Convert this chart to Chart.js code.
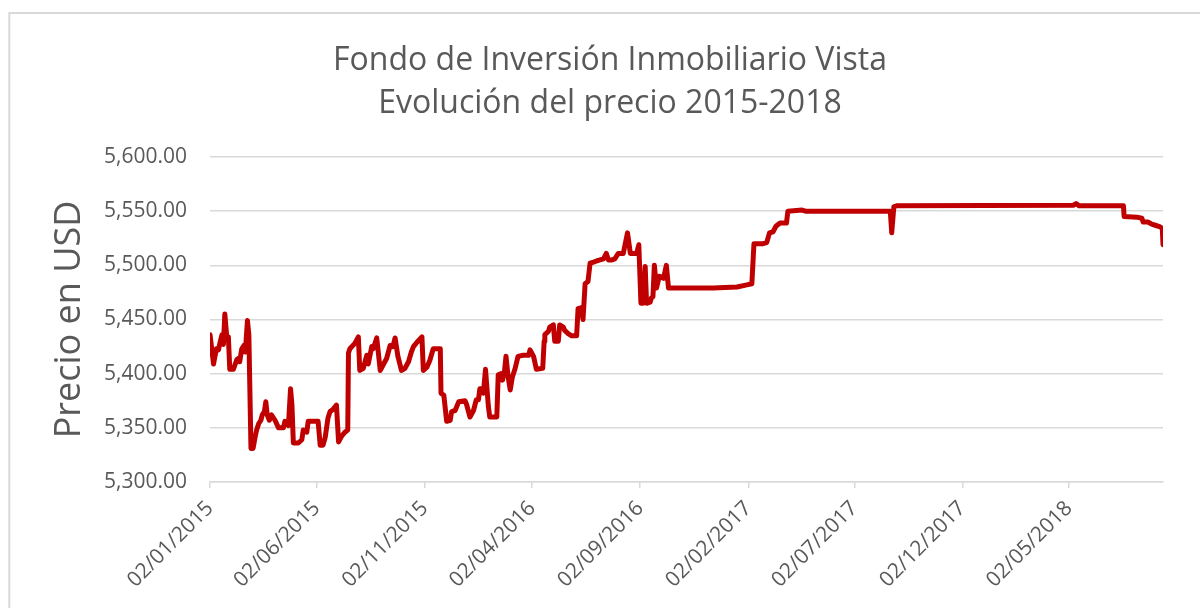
<!DOCTYPE html>
<html>
<head>
<meta charset="utf-8">
<script src="https://cdn.jsdelivr.net/npm/chart.js@4.4.1/dist/chart.umd.min.js"></script>
<style>
  html, body { margin: 0; padding: 0; background: #ffffff; }
  #wrap { position: relative; width: 1200px; height: 608px; }
</style>
</head>
<body>
<div id="wrap"><canvas id="c"></canvas></div>
<script>
const titleLines = ['Fondo de Inversión Inmobiliario Vista', 'Evolución del precio 2015-2018'];
const yAxisTitle = 'Precio en USD';

const tickDates = ['2015-01-02','2015-06-02','2015-11-02','2016-04-02','2016-09-02','2017-02-02','2017-07-02','2017-12-02','2018-05-02'];
const tickLabels = ['02/01/2015','02/06/2015','02/11/2015','02/04/2016','02/09/2016','02/02/2017','02/07/2017','02/12/2017','02/05/2018'];

const yMin = 5300, yMax = 5600, yStep = 50;

const dates = [
 '2015-01-02','2015-01-07','2015-01-11','2015-01-14','2015-01-16','2015-01-19','2015-01-21','2015-01-23','2015-01-26','2015-01-28',
 '2015-01-30','2015-02-04','2015-02-09','2015-02-11','2015-02-13','2015-02-16','2015-02-19','2015-02-21','2015-02-24','2015-02-26',
 '2015-03-01','2015-03-04','2015-03-07','2015-03-09','2015-03-12','2015-03-15','2015-03-17','2015-03-20','2015-03-22','2015-03-24',
 '2015-03-27','2015-03-30','2015-04-04','2015-04-09','2015-04-16','2015-04-18','2015-04-23','2015-04-26','2015-04-28','2015-04-30',
 '2015-05-07','2015-05-12','2015-05-14','2015-05-19','2015-05-21','2015-06-04','2015-06-07','2015-06-11','2015-06-14','2015-06-18',
 '2015-06-21','2015-06-25','2015-06-30','2015-07-03','2015-07-07','2015-07-12','2015-07-16','2015-07-17','2015-07-19','2015-07-26',
 '2015-07-31','2015-08-02','2015-08-07','2015-08-12','2015-08-14','2015-08-19','2015-08-21','2015-08-26','2015-08-31','2015-09-04',
 '2015-09-09','2015-09-14','2015-09-18','2015-09-21','2015-09-25','2015-09-30','2015-10-05','2015-10-10','2015-10-14','2015-10-17',
 '2015-10-22','2015-10-29','2015-10-31','2015-11-05','2015-11-09','2015-11-14','2015-11-24','2015-11-25','2015-11-29','2015-12-03',
 '2015-12-08','2015-12-10','2015-12-15','2015-12-20','2015-12-29','2015-12-31','2016-01-05','2016-01-10','2016-01-14','2016-01-17',
 '2016-01-19','2016-01-22','2016-01-24','2016-01-27','2016-01-31','2016-02-02','2016-02-12','2016-02-14','2016-02-18','2016-02-20',
 '2016-02-23','2016-02-25','2016-02-28','2016-03-02','2016-03-05','2016-03-09','2016-03-13','2016-03-20','2016-03-28','2016-03-30',
 '2016-04-04','2016-04-08','2016-04-17','2016-04-19','2016-04-20','2016-04-25','2016-04-27','2016-05-02','2016-05-04','2016-05-09',
 '2016-05-11','2016-05-16','2016-05-18','2016-05-23','2016-05-28','2016-06-04','2016-06-06','2016-06-11','2016-06-13','2016-06-16',
 '2016-06-20','2016-06-23','2016-06-28','2016-07-02','2016-07-07','2016-07-12','2016-07-16','2016-07-19','2016-07-24','2016-07-28',
 '2016-08-02','2016-08-09','2016-08-15','2016-08-19','2016-08-28','2016-08-31','2016-09-03','2016-09-06','2016-09-09','2016-09-11',
 '2016-09-16','2016-09-18','2016-09-20','2016-09-22','2016-09-25','2016-09-29','2016-10-05','2016-10-09','2016-10-12','2016-11-07',
 '2016-12-14','2017-01-17','2017-01-31','2017-02-07','2017-02-10','2017-02-23','2017-02-28','2017-03-04','2017-03-09','2017-03-13',
 '2017-03-19','2017-03-28','2017-03-30','2017-04-19','2017-04-24','2017-08-22','2017-08-24','2017-08-27','2017-08-31','2018-05-08',
 '2018-05-12','2018-05-16','2018-07-18','2018-07-19','2018-08-06','2018-08-13','2018-08-15','2018-08-22','2018-08-27','2018-09-01',
 '2018-09-08','2018-09-11','2018-09-12'
];

const prices = [
 5436,5409,5423,5422,5428,5436,5427,5455,5432,5434,
 5404,5404,5413,5414,5411,5423,5426,5420,5449,5436,
 5331,5331,5342,5348,5354,5357,5362,5365,5374,5362,
 5357,5362,5357,5350,5350,5356,5352,5386,5371,5336,
 5336,5339,5348,5346,5356,5356,5334,5334,5341,5359,
 5365,5367,5371,5337,5342,5346,5348,5419,5423,5428,
 5434,5403,5405,5417,5409,5425,5423,5433,5403,5408,
 5414,5426,5425,5433,5416,5403,5405,5411,5420,5425,
 5429,5434,5403,5406,5412,5423,5423,5382,5380,5356,
 5357,5365,5366,5374,5375,5372,5360,5366,5376,5376,
 5386,5386,5382,5404,5370,5360,5360,5399,5400,5394,
 5403,5416,5397,5385,5397,5405,5416,5417,5417,5422,
 5416,5404,5405,5430,5436,5439,5443,5445,5430,5430,
 5445,5443,5440,5437,5435,5435,5460,5461,5450,5483,
 5485,5502,5503,5504,5505,5506,5511,5505,5505,5506,
 5511,5511,5530,5511,5511,5519,5465,5465,5499,5465,
 5466,5470,5471,5500,5479,5490,5488,5500,5479,5479,
 5479,5480,5482,5483,5520,5520,5521,5530,5531,5536,
 5539,5539,5550,5551,5550,5550,5530,5554,5555,5555.5,
 5557,5555,5555,5545,5544.5,5543.5,5540,5540,5538,5537,
 5535.5,5534,5519
];

const DAY0 = Date.UTC(2015, 0, 2);
function dayNum(s) {
  const p = s.split('-').map(Number);
  return (Date.UTC(p[0], p[1] - 1, p[2]) - DAY0) / 86400000;
}
const points = dates.map((d, i) => ({ x: dayNum(d), y: prices[i] }));
const tickVals = tickDates.map(dayNum);
const xMax = dayNum(dates[dates.length - 1]);

const FONT = "'Open Sans', 'DejaVu Sans', sans-serif";
const GREY = '#595959';
const GRID = '#d9d9d9';

const bgPlugin = {
  id: 'bg',
  beforeDraw(chart) {
    const ctx = chart.ctx;
    ctx.save();
    ctx.fillStyle = '#ffffff';
    ctx.fillRect(0, 0, chart.width, chart.height);
    ctx.strokeStyle = GRID;
    ctx.lineWidth = 2;
    ctx.strokeRect(9.3, 13, 1202, 700);
    ctx.restore();
  }
};

new Chart(document.getElementById('c'), {
  type: 'line',
  data: {
    datasets: [{
      data: points,
      borderColor: '#C00000',
      borderWidth: 5,
      borderJoinStyle: 'round',
      borderCapStyle: 'round',
      pointRadius: 0,
      tension: 0,
      fill: false
    }]
  },
  options: {
    responsive: true,
    maintainAspectRatio: false,
    animation: false,
    layout: { padding: { left: 57, right: 37, top: 0, bottom: 0 } },
    plugins: {
      legend: { display: false },
      tooltip: { enabled: false },
      title: {
        display: true,
        text: titleLines,
        color: GREY,
        font: { family: FONT, size: 32, weight: 'normal', lineHeight: 1.344 },
        padding: { top: 39.5, bottom: 31.5 }
      }
    },
    scales: {
      x: {
        type: 'linear',
        min: 0,
        max: xMax,
        afterFit(scale) { scale.height = 126; },
        afterBuildTicks(scale) { scale.ticks = tickVals.map(v => ({ value: v })); },
        ticks: {
          autoSkip: false,
          minRotation: 45,
          maxRotation: 45,
          color: GREY,
          padding: 8,
          font: { family: FONT, size: 21 },
          callback: (v, i) => tickLabels[i]
        },
        grid: {
          drawOnChartArea: false,
          drawTicks: true,
          tickLength: 6,
          color: GRID,
          lineWidth: 1.5
        },
        border: { display: true, color: GRID, width: 1.5 }
      },
      y: {
        min: yMin,
        max: yMax,
        afterFit(scale) { scale.width = 153; },
        ticks: {
          stepSize: yStep,
          color: GREY,
          padding: 23,
          font: { family: FONT, size: 21 },
          callback: v => Number(v).toLocaleString('en-US', { minimumFractionDigits: 2, maximumFractionDigits: 2 })
        },
        grid: { color: GRID, lineWidth: 1.5, drawTicks: false },
        border: { display: false },
        title: {
          display: true,
          text: yAxisTitle,
          color: GREY,
          font: { family: FONT, size: 36, weight: 'normal', lineHeight: 1.2 },
          padding: { top: -9, bottom: 0 }
        }
      }
    }
  },
  plugins: [bgPlugin]
});
</script>
</body>
</html>
